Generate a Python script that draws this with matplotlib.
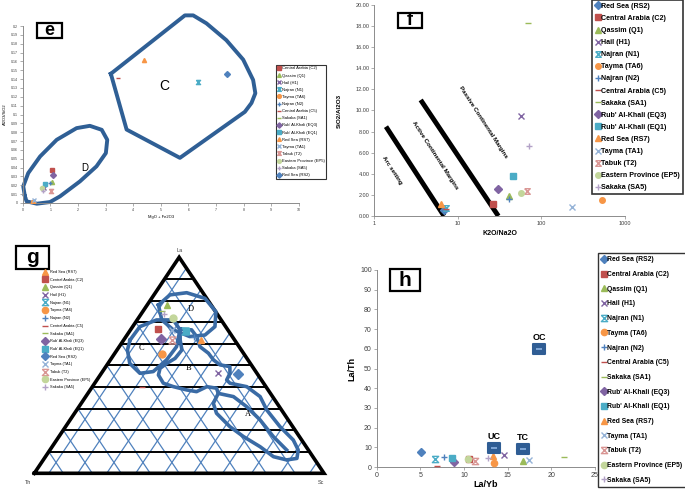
import matplotlib.pyplot as plt
import numpy as np
from matplotlib.path import Path
from matplotlib.patches import Rectangle
from matplotlib.ticker import FuncFormatter, NullLocator

plt.rcParams['font.family'] = ['Liberation Sans', 'DejaVu Sans']

# sample sites, in the order of the f / h legends
sites = ['Red Sea (RS2)', 'Central Arabia (C2)', 'Qassim (Q1)', 'Hail (H1)', 'Najran (N1)',
         'Tayma (TA6)', 'Najran (N2)', 'Central Arabia (C5)', 'Sakaka (SA1)',
         "Rub' Al-Khali (EQ3)", "Rub' Al-Khali (EQ1)", 'Red Sea (RS7)', 'Tayma (TA1)',
         'Tabuk (T2)', 'Eastern Province (EP5)', 'Sakaka (SA5)']

# panel e: Al2O3/SiO2 vs MgO + Fe2O3
e_x = [7.39, 1.07, 1.05, 0.78, 6.35, 0.36, 0.99, 3.45, 0.70, 1.11, 0.81, 4.39, 0.41, 1.03, 0.69, 0.72]
e_y = [0.146, 0.037, 0.024, 0.017, 0.137, 0.001, 0.023, 0.141, 0.017, 0.032, 0.022, 0.162, 0.003, 0.014, 0.017, 0.013]
e_field_c_x = [3.19, 5.87, 6.17, 6.65, 7.37, 7.98, 8.34, 8.42, 8.28, 8.04, 5.69, 3.76]
e_field_c_y = [0.146, 0.212, 0.212, 0.203, 0.184, 0.162, 0.139, 0.124, 0.113, 0.103, 0.051, 0.083]
e_field_d_x = [0.08, 0.02, 0.20, 0.63, 1.23, 1.95, 2.43, 2.86, 3.06, 3.01, 2.67, 2.07, 1.35, 0.99, 0.51, 0.14]
e_field_d_y = [0.0075, 0.0188, 0.0338, 0.0526, 0.0714, 0.0846, 0.0872, 0.0827, 0.0714, 0.0564, 0.0414,
               0.0244, 0.0075, 0.0011, -0.0008, 0.0019]

# panel f: SiO2/Al2O3 vs K2O/Na2O
f_x = [6.83, 26.6, 41, 57, 7.2, 527, 41.4, 7.3, 69.9, 30, 46, 6.2, 231, 68, 56.5, 71.8]
f_y = [0.57, 1.14, 1.9, 9.48, 0.73, 1.52, 1.58, 0.63, 18.33, 2.56, 3.79, 1.14, 0.88, 2.37, 2.21, 6.63]
arc_line_x, arc_line_y = [1.38, 6.83], [8.47, 0]
acm_line_x, acm_line_y = [3.59, 30.5], [11.0, 0]

# panel g: La-Th-Sc ternary (percent)
g_la = [46.0, 66.7, 77.9, 46.3, 66.0, 55.1, 63.0, 40.1, 75.3, 62.0, 66.0, 61.7, 66.4, 61.7, 71.8, 73.8]
g_sc = [47.4, 9.2, 6.7, 40.4, 19.0, 16.6, 23.6, 17.0, 6.3, 12.7, 19.5, 26.6, 14.2, 16.8, 12.1, 7.9]
g_th = [6.6, 24.1, 15.4, 13.3, 15.0, 28.3, 13.4, 42.9, 18.4, 25.3, 14.5, 11.7, 19.4, 21.5, 16.1, 18.3]
g_order = [11, 1, 2, 3, 4, 5, 6, 7, 8, 9, 10, 0, 12, 13, 14, 15]
field_d_la = [77.9, 82.6, 83.6, 81.0, 74.8, 67.9, 64.0, 63.3, 66.4, 71.0]
field_d_sc = [3.9, 5.5, 10.8, 18.4, 25.3, 28.4, 26.9, 22.0, 14.8, 8.5]
field_c_la = [61.7, 67.9, 71.0, 71.0, 66.4, 58.6, 52.5, 47.1, 46.3, 50.9, 57.1]
field_c_sc = [2.2, 2.5, 6.7, 12.5, 17.1, 19.8, 19.4, 17.5, 13.3, 7.5, 3.6]
field_a_la = [66.7, 66.4, 63.3, 58.6, 55.6, 52.5, 50.2, 49.4, 46.3, 43.2, 41.7, 40.1, 35.5, 29.3, 21.6,
              15.4, 10.8, 6.9, 6.2, 7.7, 12.3, 17.0, 21.6, 27.8, 32.4, 37.0, 39.4, 40.1, 37.8, 38.6,
              40.1, 41.7, 45.5, 48.6, 50.9, 53.2, 57.1, 61.7]
field_a_sc = [17.0, 21.1, 24.4, 27.9, 32.3, 35.6, 39.0, 42.8, 44.4, 44.8, 46.7, 53.3, 60.2, 65.6, 74.0,
              81.7, 85.7, 87.2, 84.0, 78.7, 71.8, 63.7, 56.7, 49.0, 45.6, 45.0, 43.2, 39.5, 37.1, 33.3,
              28.0, 23.7, 20.1, 19.1, 20.3, 22.0, 22.4, 19.5]
field_inner_la = [37.0, 35.5, 30.9, 24.7, 17.0, 10.8]
field_inner_sc = [45.0, 51.0, 57.8, 65.6, 74.0, 81.7]
g_field_labels = ['C', 'D', 'B', 'A']
g_label_la = [57.9, 76.1, 48.6, 27.5]
g_label_sc = [7.9, 16.0, 28.9, 60.1]

# panel h: La/Th vs La/Yb
h_x = [5.08, 10.6, 16.7, 14.6, 6.7, 13.4, 7.75, 6.9, 21.4, 8.9, 8.6, 13.3, 17.4, 11.3, 10.4, 12.7]
h_y = [7.4, 3.9, 3.2, 6.1, 4.2, 2.2, 4.9, 0.7, 5.1, 2.5, 4.4, 5.6, 3.4, 3.2, 4.1, 4.6]
crust_names = ['UC', 'TC', 'OC']
crust_x = [13.4, 16.7, 18.6]
crust_y = [9.5, 9.1, 59.9]

hourglass = Path([(-1, 1), (1, 1), (-1, -1), (1, -1), (-1, 1)],
                 [Path.MOVETO, Path.LINETO, Path.LINETO, Path.LINETO, Path.LINETO])
site_markers = ['D', 's', '^', 'x', hourglass, 'o', '+', '_', '_', 'D', 's', '^', 'x', hourglass, 'o', '+']
site_colors = ['#4F81BD', '#C0504D', '#9BBB59', '#8064A2', '#4BACC6', '#F79646', '#4F81BD', '#C0504D',
               '#9BBB59', '#8064A2', '#4BACC6', '#F79646', '#95B3D7', '#D99694', '#C3D69B', '#B3A2C7']
field_color = '#2F5F95'

fig = plt.figure(figsize=(6.85, 5.0), dpi=100)


def px_axes(x0, y0, x1, y1):
    return fig.add_axes([x0 / 685, 1 - y1 / 500, (x1 - x0) / 685, (y1 - y0) / 500])


def panel_tag(letter, x0, y0, x1, y1, size):
    fig.patches.append(Rectangle((x0 / 685, 1 - y1 / 500), (x1 - x0) / 685, (y1 - y0) / 500,
                                 transform=fig.transFigure, fill=False, ec='black', lw=1.6))
    fig.text((x0 + x1) / 2 / 685, 1 - (y0 + y1) / 2 / 500, letter, ha='center', va='center',
             fontsize=size, fontweight='bold')


def style_xy(ax, size):
    for side in ['top', 'right']:
        ax.spines[side].set_visible(False)
    for side in ['left', 'bottom']:
        ax.spines[side].set_color('#8c8c8c')
        ax.spines[side].set_linewidth(0.7)
    ax.tick_params(labelsize=size, colors='#8c8c8c', labelcolor='#404040', length=2, width=0.5, pad=1.5)


def site_marker(i, ms):
    m = site_markers[i]
    mfc = 'none' if m is hourglass else site_colors[i]
    return dict(marker=m, ms=ms, color=site_colors[i], mfc=mfc, mec=site_colors[i], mew=1.0, ls='none')


# ---- e ----
ax_e = px_axes(22.7, 26, 299, 203)
ax_e.plot(e_field_c_x + e_field_c_x[:1], e_field_c_y + e_field_c_y[:1], color=field_color, lw=2.8,
          solid_joinstyle='round', clip_on=False, zorder=1)
ax_e.plot(e_field_d_x + e_field_d_x[:1], e_field_d_y + e_field_d_y[:1], color=field_color, lw=2.8,
          solid_joinstyle='round', clip_on=False, zorder=1)
e_order = [1, 2, 3, 4, 5, 6, 7, 8, 9, 10, 11, 12, 13, 14, 15, 0]
for i in e_order:
    ax_e.plot(e_x[i], e_y[i], label=sites[i], zorder=3, **site_marker(i, 3))
ax_e.text(5.12, 0.132, 'C', fontsize=10, ha='center', va='center')
ax_e.text(2.23, 0.039, 'D', fontsize=7, ha='center', va='center')
ax_e.set_xlim(0, 10)
ax_e.set_ylim(0, 0.2)
ax_e.set_xticks(range(11))
ax_e.set_yticks(np.arange(0, 0.2001, 0.01))
ax_e.yaxis.set_major_formatter(FuncFormatter(lambda v, p: '%g' % round(v, 2)))
style_xy(ax_e, 2.6)
ax_e.set_xlabel('MgO + Fe2O3', fontsize=3, labelpad=2)
ax_e.set_ylabel('Al2O3/SiO2', fontsize=3, labelpad=3)
fig.legend(*ax_e.get_legend_handles_labels(), loc='upper left', bbox_to_anchor=(276 / 685, 1 - 65 / 500),
           fontsize=3, frameon=True, fancybox=False, edgecolor='black', borderpad=0.35, labelspacing=0.75,
           handlelength=0.8, handletextpad=0.3, borderaxespad=0, markerscale=0.9).get_frame().set_linewidth(0.8)
panel_tag('e', 37, 23, 62, 38, 13)

# ---- f ----
ax_f = px_axes(374.3, 5, 625, 216)
ax_f.plot(arc_line_x, arc_line_y, color='black', lw=3.5, solid_capstyle='butt')
ax_f.plot(acm_line_x, acm_line_y, color='black', lw=3.5, solid_capstyle='butt')
for i in range(len(sites)):
    ax_f.plot(f_x[i], f_y[i], label=sites[i], zorder=3, **site_marker(i, 4))
ax_f.text(1.61, 4.36, 'Arc setting', rotation=-57, fontsize=4.5, fontweight='bold', ha='center', va='center')
ax_f.text(5.33, 5.78, 'Active Continental Margins', rotation=-57, fontsize=4.5, fontweight='bold',
          ha='center', va='center')
ax_f.text(20.2, 8.94, 'Passive Continental Margins', rotation=-57, fontsize=4.5, fontweight='bold',
          ha='center', va='center')
ax_f.set_xscale('log')
ax_f.set_xlim(1, 1000)
ax_f.set_ylim(0, 20)
ax_f.set_xticks([1, 10, 100, 1000])
ax_f.set_xticklabels(['1', '10', '100', '1000'])
ax_f.xaxis.set_minor_locator(NullLocator())
ax_f.set_yticks(np.arange(0, 20.01, 2))
ax_f.yaxis.set_major_formatter(FuncFormatter(lambda v, p: '%.2f' % v))
style_xy(ax_f, 4)
ax_f.set_xlabel('K2O/Na2O', fontsize=5, fontweight='bold', labelpad=3)
ax_f.set_ylabel('SiO2/Al2O3', fontsize=4.5, fontweight='bold', labelpad=10)
fig.legend(*ax_f.get_legend_handles_labels(), loc='upper right', bbox_to_anchor=(683 / 685, 1.0),
           prop={'size': 5.1, 'weight': 'bold'}, frameon=True, fancybox=False, edgecolor='black',
           borderpad=0.4, labelspacing=0.72, handlelength=0.7, handletextpad=0.2,
           borderaxespad=0).get_frame().set_linewidth(1.2)
panel_tag('f', 398, 13, 422, 28, 13)


# ---- g ----
def tern(la, sc):
    la = np.asarray(la, dtype=float) / 100
    sc = np.asarray(sc, dtype=float) / 100
    return sc + la / 2, la


ax_g = px_axes(34.3, 257.3, 324, 473.3)
ax_g.set_xlim(0, 1)
ax_g.set_ylim(0, 1)
ax_g.axis('off')
grid_steps = np.arange(1, 10) / 10
for s in np.arange(0.5, 10) / 10:
    ax_g.plot([s, s + (1 - s) / 2], [0, 1 - s], color='#4F81BD', lw=0.9, zorder=1)
for t in grid_steps:
    ax_g.plot([1 - t, (1 - t) / 2], [0, 1 - t], color='#4F81BD', lw=0.9, zorder=1)
for la in grid_steps:
    ax_g.plot([la / 2, 1 - la / 2], [la, la], color='black', lw=1.4, zorder=1)
ax_g.plot([0, 0.5, 1, 0], [0, 1, 0, 0], color='black', lw=2.6, solid_joinstyle='miter', clip_on=False, zorder=2)
for la_pts, sc_pts in [(field_d_la, field_d_sc), (field_c_la, field_c_sc), (field_a_la, field_a_sc)]:
    gx, gy = tern(la_pts + la_pts[:1], sc_pts + sc_pts[:1])
    ax_g.plot(gx, gy, color='#3A6BA5', lw=2.6, solid_joinstyle='round', zorder=3)
gx, gy = tern(field_inner_la, field_inner_sc)
ax_g.plot(gx, gy, color='#3A6BA5', lw=2.6, solid_joinstyle='round', zorder=3)
for name, la, sc in zip(g_field_labels, g_label_la, g_label_sc):
    lx, ly = tern(la, sc)
    ax_g.text(lx, ly, name, fontsize=6, family='Liberation Serif', ha='center', va='center', zorder=4)
for i in g_order:
    px, py = tern(g_la[i], g_sc[i])
    ax_g.plot(px, py, label=sites[i], zorder=5, **site_marker(i, 5))
ax_g.text(0.5, 1.02, 'La', fontsize=4, ha='center', va='bottom', color='#404040')
ax_g.text(-0.02, -0.03, 'Th', fontsize=4, ha='center', va='top', color='#404040')
ax_g.text(0.99, -0.03, 'Sc', fontsize=4, ha='center', va='top', color='#404040')
fig.legend(*ax_g.get_legend_handles_labels(), loc='upper left', bbox_to_anchor=(43 / 685, 1 - 270 / 500),
           fontsize=2.8, frameon=False, borderpad=0, labelspacing=0.95, handlelength=0.9,
           handletextpad=0.8, borderaxespad=0, markerscale=0.9)
panel_tag('g', 16, 246, 49, 269, 15)

# ---- h ----
ax_h = px_axes(376.7, 270, 595, 467)
for i in range(len(sites)):
    ax_h.plot(h_x[i], h_y[i], label=sites[i], zorder=3, **site_marker(i, 4.5))
crust_box = Path([(-1.35, -1), (1.35, -1), (1.35, 1), (-1.35, 1), (-1.35, -1)],
                 [Path.MOVETO, Path.LINETO, Path.LINETO, Path.LINETO, Path.CLOSEPOLY])
ax_h.plot(crust_x, crust_y, ls='none', marker=crust_box, ms=9, color='#2F5D94', mec='#2F5D94', mew=1.5,
          zorder=4)
ax_h.plot(crust_x, crust_y, ls='none', marker='_', ms=4, mew=1.2, color='#8DB3E2', zorder=5)
for name, cx, cy in zip(crust_names, crust_x, crust_y):
    ax_h.annotate(name, (cx, cy), xytext=(0, 5), textcoords='offset points', ha='center', va='bottom',
                  fontsize=6.5, fontweight='bold')
ax_h.set_xlim(0, 25)
ax_h.set_ylim(0, 100)
ax_h.set_xticks(range(0, 26, 5))
ax_h.set_yticks(range(0, 101, 10))
style_xy(ax_h, 5)
ax_h.set_xlabel('La/Yb', fontsize=6.5, fontweight='bold', labelpad=1)
ax_h.set_ylabel('La/Th', fontsize=6.5, fontweight='bold', labelpad=3)
fig.legend(*ax_h.get_legend_handles_labels(), loc='upper left', bbox_to_anchor=(598 / 685, 1 - 253 / 500),
           prop={'size': 4.9, 'weight': 'bold'}, frameon=True, fancybox=False, edgecolor='black',
           borderpad=0.5, labelspacing=1.13, handlelength=0.7, handletextpad=0.15,
           borderaxespad=0).get_frame().set_linewidth(1.0)
panel_tag('h', 390, 269, 420, 291, 15)

fig.savefig('out.png', dpi=100, facecolor='white')
